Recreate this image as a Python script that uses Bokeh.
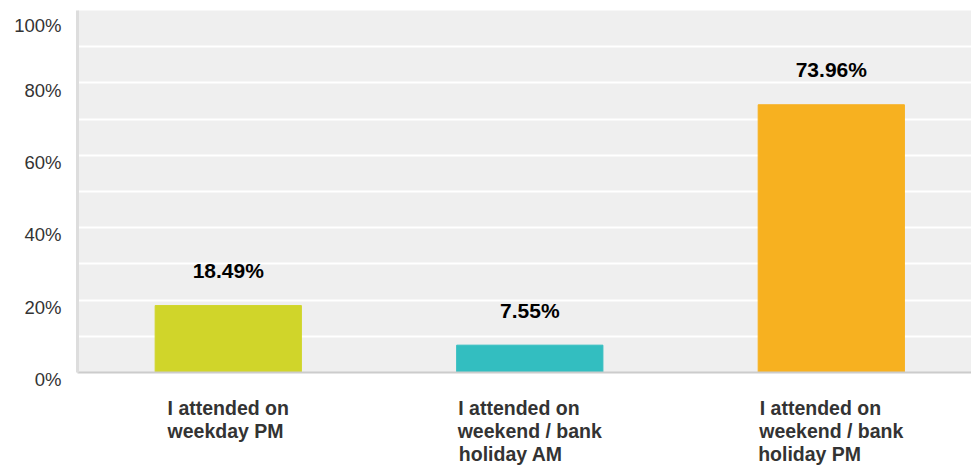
from bokeh.plotting import figure
from bokeh.models import ColumnDataSource, Range1d, FixedTicker
from bokeh.core.properties import value
from bokeh.embed import file_html
from bokeh.resources import INLINE

NB = "\u00a0"
categories = ["I attended on\nweekday PM" + NB,
              "I attended on" + NB * 4 + "\nweekend / bank\nholiday AM" + NB * 7,
              "I attended on" + NB * 4 + "\nweekend / bank\nholiday PM" + NB * 8]
values = [18.49, 7.55, 73.96]
value_labels = ["18.49%", "7.55%", "73.96%"]
colors = ["#d0d52a", "#33bec0", "#f7b120"]
y_ticks = [0, 20, 40, 60, 80, 100]
y_tick_labels = ["0%", "20%", "40%", "60%", "80%", "100%"]

xs = list(range(len(categories)))
FONT = "Liberation Sans"

p = figure(width=971, height=468, output_backend="svg", toolbar_location=None,
           x_range=Range1d(-0.5, 2.465), y_range=Range1d(0, 100),
           min_border_left=77, min_border_right=0, min_border_top=10, min_border_bottom=96)

p.background_fill_color = "#efefef"
p.border_fill_color = "white"
p.outline_line_color = None

src = ColumnDataSource(dict(x=xs, top=values, color=colors, label=value_labels))
p.vbar(x="x", top="top", bottom=0, width=0.485, color="color", source=src)
p.text(x="x", y="top", text="label", source=src, y_offset=-35,
       text_align="center", text_baseline="middle",
       text_font=value(FONT), text_font_style="bold", text_font_size="21px",
       text_color="#000000")

p.xgrid.visible = False
p.ygrid.ticker = FixedTicker(ticks=list(range(0, 101, 10)))
p.ygrid.grid_line_color = "white"
p.ygrid.grid_line_width = 2

xaxis = p.xaxis[0]
xaxis.ticker = FixedTicker(ticks=xs)
xaxis.major_label_overrides = {x: c for x, c in zip(xs, categories)}
xaxis.axis_line_color = "#cccccc"
xaxis.axis_line_width = 2
xaxis.major_tick_line_color = None
xaxis.minor_tick_line_color = None
xaxis.major_label_standoff = 18
xaxis.major_label_text_font = FONT
xaxis.major_label_text_font_style = "bold"
xaxis.major_label_text_font_size = "19.5px"
xaxis.major_label_text_color = "#333333"
xaxis.major_label_text_line_height = 1.05

yaxis = p.yaxis[0]
yaxis.ticker = FixedTicker(ticks=y_ticks)
yaxis.major_label_overrides = {t: "\n" + l for t, l in zip(y_ticks, y_tick_labels)}
yaxis.axis_line_color = "#dddddd"
yaxis.axis_line_width = 3
yaxis.major_tick_line_color = None
yaxis.minor_tick_line_color = None
yaxis.major_label_standoff = 10
yaxis.major_label_text_font = FONT
yaxis.major_label_text_font_size = "18.5px"
yaxis.major_label_text_color = "#333333"
yaxis.major_label_text_line_height = 0.68

open("out.html", "w").write(file_html(p, INLINE))
